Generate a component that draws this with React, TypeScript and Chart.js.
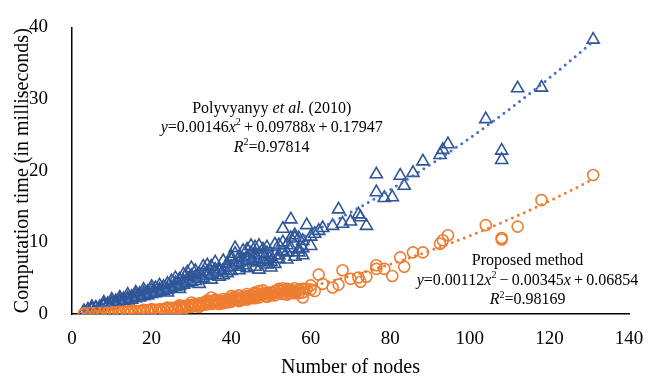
import React, { useEffect, useRef } from 'react';
import { Chart, registerables } from 'chart.js';

Chart.register(...registerables);

const SERIF = "'Liberation Serif', 'Times New Roman', serif";

// number of nodes of each process model (shared by both methods)
const nodes = [
  3, 3, 4, 4, 5, 5, 6, 6, 7, 7, 8, 8, 9, 9, 10, 10, 11, 11, 12, 12,
  13, 13, 14, 14, 15, 15, 16, 16, 17, 17, 18, 18, 19, 19, 20, 20, 21, 21, 22, 22,
  23, 23, 24, 24, 25, 25, 26, 26, 27, 27, 28, 28, 29, 29, 30, 30, 31, 31, 32, 32,
  33, 33, 34, 34, 35, 35, 36, 36, 37, 37, 38, 38, 39, 39, 40, 40, 41, 41, 42, 42,
  43, 43, 44, 44, 45, 45, 46, 46, 47, 47, 47, 48, 48, 49, 49, 50, 50, 51, 52, 52,
  53, 54, 55, 55, 55, 56, 57, 58, 58, 59, 57, 62, 65.5, 67, 68, 70, 72, 72.5, 74, 76.5,
  76.5, 78.5, 80.5, 82.5, 83.5, 85.7, 88.2, 92.5, 93.2, 94.5, 104, 108, 108, 112, 118, 131,
  20, 22, 24, 26, 27, 28, 29, 30, 31, 32, 33, 34, 35, 36, 37, 38, 39, 40, 40, 41,
  42, 42, 43, 44, 44, 45, 46, 46, 47, 48, 49, 49, 50, 51, 51, 52, 53, 53, 54, 54,
  56, 56, 57, 58, 60, 60, 61, 63, 5, 8, 10, 12, 14, 16, 18,
];

// computation time (ms), Polyvyanyy et al. (2010)
const polyvyanyyTimes = [
  0.4, 0.3, 0.5, 0.6, 0.7, 0.6, 0.8, 0.9, 1.0, 0.9, 1.1, 1.3, 1.2, 1.4, 1.3, 1.6, 1.5, 1.8, 1.6, 1.9,
  1.8, 2.1, 1.9, 2.2, 2.0, 2.4, 2.2, 2.6, 2.3, 2.8, 2.5, 2.9, 2.6, 3.1, 2.8, 3.3, 2.9, 3.6, 3.1, 3.4,
  3.2, 3.8, 3.4, 4.2, 3.6, 4.6, 3.8, 4.3, 3.9, 4.8, 4.1, 5.5, 4.3, 4.9, 4.5, 6.4, 4.6, 5.2, 4.9, 5.6,
  5.0, 6.6, 5.3, 5.9, 5.5, 6.6, 5.8, 6.2, 6.0, 6.3, 6.1, 5.4, 6.5, 7.0, 6.6, 7.6, 7.0, 9.2, 7.2, 6.1,
  7.5, 6.8, 7.5, 8.0, 9.5, 7.4, 8.2, 7.7, 9.5, 8.4, 7.2, 8.3, 7.6, 8.5, 7.5, 8.0, 6.5, 8.2, 9.6, 8.2,
  11.9, 8.6, 13.2, 10.6, 9.2, 10.6, 10.6, 10.2, 9.2, 12.4, 8.6, 11.6, 12.3, 14.6, 12.6, 12.9, 13.9, 13.5, 12.3, 19.5,
  17.0, 16.2, 16.3, 19.3, 17.9, 19.7, 21.3, 22.2, 22.9, 23.7, 27.2, 22.8, 21.5, 31.5, 31.6, 38.3,
  3.8, 4.0, 3.0, 5.0, 3.5, 4.6, 5.8, 5.3, 6.0, 4.2, 5.8, 6.8, 4.8, 7.2, 5.2, 7.4, 5.7, 8.0, 6.0, 8.4,
  7.9, 6.6, 8.8, 6.4, 9.0, 8.5, 6.6, 9.3, 6.2, 9.0, 6.9, 9.3, 7.3, 9.7, 7.0, 7.7, 8.8, 10.0, 9.6, 7.6,
  8.0, 11.0, 9.0, 8.2, 10.8, 9.5, 11.2, 12.0, 1.0, 1.6, 2.0, 2.3, 2.7, 3.0, 3.4,
];

// computation time (ms), proposed method
const proposedTimes = [
  0.05, 0.04, 0.06, 0.08, 0.07, 0.1, 0.09, 0.12, 0.1, 0.14, 0.12, 0.15, 0.15, 0.18, 0.16, 0.2, 0.2, 0.22, 0.22, 0.26,
  0.25, 0.3, 0.28, 0.32, 0.3, 0.36, 0.33, 0.4, 0.36, 0.42, 0.4, 0.48, 0.45, 0.5, 0.48, 0.55, 0.52, 0.6, 0.55, 0.65,
  0.6, 0.7, 0.65, 0.8, 0.7, 0.85, 0.75, 0.9, 0.85, 1.0, 0.9, 1.1, 0.95, 1.2, 1.0, 1.3, 1.1, 1.4, 1.2, 1.5,
  1.3, 1.6, 1.35, 1.7, 1.4, 2.3, 1.5, 1.8, 1.6, 1.9, 1.7, 1.5, 1.8, 2.0, 1.9, 2.2, 2.0, 2.4, 2.1, 1.8,
  2.2, 2.0, 2.3, 2.5, 2.6, 2.2, 2.4, 2.8, 3.2, 2.6, 2.3, 2.7, 2.9, 2.8, 2.5, 3.0, 2.6, 3.0, 3.5, 2.9,
  3.3, 3.1, 3.2, 3.4, 2.9, 2.9, 3.3, 2.3, 3.5, 3.5, 2.9, 5.5, 3.7, 4.1, 6.1, 4.9, 5.1, 4.5, 5.2, 6.8,
  6.3, 6.3, 5.3, 7.9, 6.6, 8.6, 8.6, 9.8, 10.3, 11.0, 12.4, 10.4, 10.6, 12.2, 15.9, 19.4,
  0.7, 0.5, 0.9, 0.6, 1.2, 0.7, 1.0, 1.6, 1.2, 1.0, 1.5, 1.9, 1.7, 2.0, 1.4, 2.1, 1.6, 2.5, 1.7, 2.2,
  2.6, 1.9, 2.4, 2.0, 2.8, 2.5, 3.0, 2.2, 2.7, 3.3, 2.4, 3.0, 2.7, 3.2, 2.6, 3.3, 3.6, 2.8, 3.5, 2.7,
  3.1, 3.6, 3.4, 3.0, 3.4, 4.0, 3.2, 4.2, 0.15, 0.2, 0.25, 0.3, 0.4, 0.45, 0.6,
];

// polynomial trendline coefficients stated on the chart [a, b, c] for y = a x^2 + b x + c
const polyvyanyyFit = [0.00146, 0.09788, 0.17947];
const proposedFit = [0.00112, -0.00345, 0.06854];
const fitRange = [3, 131];

const xTicks = [0, 20, 40, 60, 80, 100, 120, 140];
const yTicks = [0, 10, 20, 30, 40];

type Seg = { t: string; it?: boolean; sup?: boolean };

const polyLabel: Seg[][] = [
  [{ t: 'Polyvyanyy ' }, { t: 'et al.', it: true }, { t: ' (2010)' }],
  [
    { t: 'y', it: true }, { t: '=0.00146' }, { t: 'x', it: true }, { t: '2', sup: true },
    { t: '\u2009+\u20090.09788' }, { t: 'x', it: true }, { t: '\u2009+\u20090.17947' },
  ],
  [{ t: 'R', it: true }, { t: '2', sup: true }, { t: '=0.97814' }],
];

const proposedLabel: Seg[][] = [
  [{ t: 'Proposed method' }],
  [
    { t: 'y', it: true }, { t: '=0.00112' }, { t: 'x', it: true }, { t: '2', sup: true },
    { t: '\u2009\u2212\u20090.00345' }, { t: 'x', it: true }, { t: '\u2009+\u20090.06854' },
  ],
  [{ t: 'R', it: true }, { t: '2', sup: true }, { t: '=0.98169' }],
];

function curve(coef: number[]) {
  const pts: { x: number; y: number }[] = [];
  for (let x = fitRange[0]; x <= fitRange[1]; x += 1) {
    pts.push({ x, y: coef[0] * x * x + coef[1] * x + coef[2] });
  }
  return pts;
}

function drawRich(ctx: CanvasRenderingContext2D, segs: Seg[], cx: number, y: number, size: number) {
  const fontFor = (s: Seg) =>
    `${s.it ? 'italic ' : ''}${s.sup ? Math.round(size * 0.65) : size}px ${SERIF}`;
  let total = 0;
  segs.forEach((s) => {
    ctx.font = fontFor(s);
    total += ctx.measureText(s.t).width;
  });
  let x = cx - total / 2;
  ctx.textAlign = 'left';
  ctx.textBaseline = 'alphabetic';
  segs.forEach((s) => {
    ctx.font = fontFor(s);
    ctx.fillText(s.t, x, s.sup ? y - size * 0.42 : y);
    x += ctx.measureText(s.t).width;
  });
}

const annotations = [
  { lines: polyLabel, x: 50.2, y: 28.1 },
  { lines: proposedLabel, x: 114.5, y: 6.8 },
];

const annotationPlugin = {
  id: 'fitLabels',
  afterDatasetsDraw(chart: any) {
    const ctx = chart.ctx as CanvasRenderingContext2D;
    const xs = chart.scales.x;
    const ys = chart.scales.y;
    ctx.save();
    ctx.fillStyle = '#000';
    annotations.forEach((a) => {
      const cx = xs.getPixelForValue(a.x);
      const cy = ys.getPixelForValue(a.y);
      a.lines.forEach((line, i) => drawRich(ctx, line, cx, cy + i * 19.5, 16));
    });
    ctx.restore();
  },
};

export default function App() {
  const ref = useRef<HTMLCanvasElement | null>(null);

  useEffect(() => {
    if (!ref.current) return;
    const polyPts = nodes.map((n, i) => ({ x: n, y: polyvyanyyTimes[i] }));
    const propPts = nodes.map((n, i) => ({ x: n, y: proposedTimes[i] }));
    const chart = new Chart(ref.current, {
      type: 'scatter',
      data: {
        datasets: [
          {
            type: 'line',
            label: 'Poly. (Polyvyanyy et al. (2010))',
            data: curve(polyvyanyyFit),
            borderColor: '#4472C4',
            borderWidth: 3,
            borderDash: [0, 6.5],
            borderCapStyle: 'round',
            pointRadius: 0,
            fill: false,
            order: 0,
          } as any,
          {
            type: 'line',
            label: 'Poly. (Proposed method)',
            data: curve(proposedFit),
            borderColor: '#ED7D31',
            borderWidth: 3,
            borderDash: [0, 6.5],
            borderCapStyle: 'round',
            pointRadius: 0,
            fill: false,
            order: 0,
          } as any,
          {
            label: 'Proposed method',
            data: propPts,
            pointStyle: 'circle',
            pointRadius: 5.5,
            borderColor: '#ED7D31',
            backgroundColor: 'rgba(0,0,0,0)',
            borderWidth: 1.6,
            order: 1,
          },
          {
            label: 'Polyvyanyy et al. (2010)',
            data: polyPts,
            pointStyle: 'triangle',
            pointRadius: 7,
            borderColor: '#2F5597',
            backgroundColor: 'rgba(0,0,0,0)',
            borderWidth: 1.6,
            order: 2,
          },
        ],
      },
      options: {
        responsive: false,
        animation: false,
        layout: { padding: { top: 15, right: 21, left: 0, bottom: 0 } },
        plugins: {
          legend: { display: false },
          tooltip: { enabled: false },
        },
        scales: {
          x: {
            type: 'linear',
            min: 0,
            max: 140,
            afterFit: (s: any) => {
              s.height = 66;
            },
            afterBuildTicks: (s: any) => {
              s.ticks = xTicks.map((v) => ({ value: v }));
            },
            grid: { display: false },
            border: { display: true, color: '#000', width: 1.5 },
            ticks: {
              color: '#000',
              padding: 6,
              maxRotation: 0,
              font: { family: SERIF, size: 19 },
            },
            title: {
              display: true,
              text: 'Number of nodes',
              color: '#000',
              font: { family: SERIF, size: 20 },
              padding: { top: 6, bottom: 0 },
            },
          },
          y: {
            type: 'linear',
            min: 0,
            max: 40,
            afterFit: (s: any) => {
              s.width = 72;
            },
            afterBuildTicks: (s: any) => {
              s.ticks = yTicks.map((v) => ({ value: v }));
            },
            grid: { display: false },
            border: { display: true, color: '#000', width: 1.5 },
            ticks: {
              color: '#000',
              padding: 16,
              font: { family: SERIF, size: 19 },
            },
            title: {
              display: true,
              text: 'Computation time (in milliseconds)',
              color: '#000',
              font: { family: SERIF, size: 20 },
              padding: { top: 11, bottom: 0 },
            },
          },
        },
      },
      plugins: [annotationPlugin],
    });
    return () => chart.destroy();
  }, []);

  return (
    <div style={{ position: 'absolute', left: 0, top: 0, width: 650, height: 380, background: '#fff' }}>
      <canvas ref={ref} width={650} height={380} style={{ display: 'block' }} />
    </div>
  );
}
